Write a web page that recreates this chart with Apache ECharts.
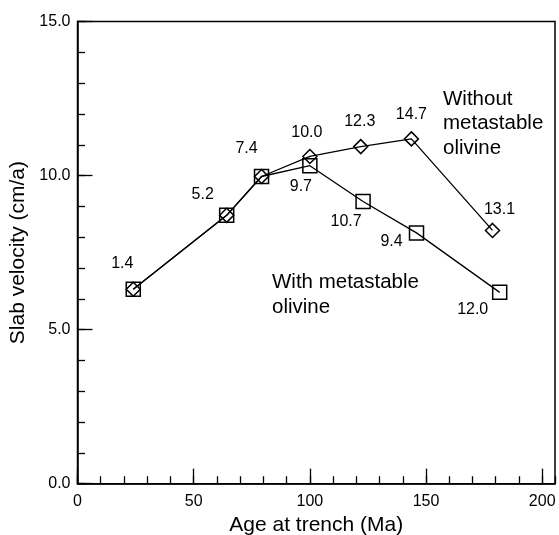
<!DOCTYPE html>
<html>
<head>
<meta charset="utf-8">
<script src="https://cdn.jsdelivr.net/npm/echarts@6/dist/echarts.min.js"></script>
<style>
  html, body { margin: 0; padding: 0; background: #fff; }
  #chart { width: 559px; height: 535px; }
</style>
</head>
<body>
<div id="chart"></div>
<script>
// Slab velocity versus age at trench, with and without metastable olivine
const sharedAge = [24.0, 64.2, 79.2];
const sharedVel = [6.31, 8.71, 9.97];
const sharedLabels = ['1.4', '5.2', '7.4'];

const withoutAge = [100.0, 121.9, 143.7, 178.6];
const withoutVel = [10.62, 10.94, 11.19, 8.22];
const withoutLabels = ['10.0', '12.3', '14.7', '13.1'];

const withAge = [100.0, 122.9, 145.9, 181.7];
const withVel = [10.32, 9.16, 8.14, 6.21];
const withLabels = ['9.7', '10.7', '9.4', '12.0'];

const xMajorTicks = [0, 50, 100, 150, 200];
const yMajorTicks = [0, 5, 10, 15];

const FONT = '"Liberation Sans", Arial, Helvetica, sans-serif';

// label offsets (px) relative to each marker centre
const sharedOffsets = [[-11, -26], [-24, -21], [-15, -28]];
const withoutOffsets = [[-3, -24], [-1, -25], [0, -24], [7, -21]];
const withOffsets = [[-9, 21], [-17, 20], [-25, 9], [-27, 17]];

function makeData(ages, vels, labels, offsets) {
  return ages.map((a, i) => {
    const d = { value: [a, vels[i]] };
    if (labels) {
      d.label = {
        show: true,
        position: 'inside',
        offset: offsets[i],
        formatter: labels[i],
        color: '#000',
        fontSize: 16,
        fontFamily: FONT
      };
    }
    return d;
  });
}

const chart = echarts.init(document.getElementById('chart'), null, { renderer: 'canvas' });

const axisLine = { show: true, onZero: false, lineStyle: { color: '#000', width: 1.5 } };

const option = {
  backgroundColor: '#fff',
  animation: false,
  grid: {
    left: 77.5, right: 4, top: 21.5, bottom: 51.3,
    outerBoundsMode: 'none',
    containLabel: false,
    show: true, borderColor: '#000', borderWidth: 1.5, backgroundColor: 'transparent'
  },
  xAxis: [
    {
      type: 'value', min: 0, max: 205.5, interval: 10, position: 'bottom',
      axisLine: axisLine,
      axisTick: { show: true, inside: true, length: 7.5, lineStyle: { color: '#000', width: 1.3 } },
      axisLabel: { show: false },
      splitLine: { show: false }
    },
    {
      type: 'value', min: 0, max: 205.5, interval: 50, position: 'bottom',
      axisLine: { show: false },
      axisTick: { show: true, inside: true, length: 15, lineStyle: { color: '#000', width: 1.3 } },
      axisLabel: {
        show: true, margin: 10, color: '#000', fontSize: 16, fontFamily: FONT,
        showMaxLabel: false,
        formatter: v => xMajorTicks.includes(v) ? String(v) : ''
      },
      splitLine: { show: false },
      name: 'Age at trench (Ma)', nameLocation: 'middle', nameGap: 28,
      nameTextStyle: { color: '#000', fontSize: 21, fontFamily: FONT }
    }
  ],
  yAxis: [
    {
      type: 'value', min: 0, max: 15, interval: 1, position: 'left',
      axisLine: axisLine,
      axisTick: { show: true, inside: true, length: 7.5, lineStyle: { color: '#000', width: 1.3 } },
      axisLabel: { show: false },
      splitLine: { show: false }
    },
    {
      type: 'value', min: 0, max: 15, interval: 5, position: 'left',
      axisLine: { show: false },
      axisTick: { show: true, inside: true, length: 15, lineStyle: { color: '#000', width: 1.3 } },
      axisLabel: {
        show: true, margin: 7, color: '#000', fontSize: 16, fontFamily: FONT,
        formatter: v => yMajorTicks.includes(v) ? v.toFixed(1) : ''
      },
      splitLine: { show: false },
      name: 'Slab velocity (cm/a)', nameLocation: 'middle', nameGap: 48,
      nameTextStyle: { color: '#000', fontSize: 21, fontFamily: FONT }
    }
  ],
  series: [
    {
      name: 'With metastable olivine',
      type: 'line',
      xAxisIndex: 0, yAxisIndex: 0,
      symbol: 'rect', symbolSize: 14,
      lineStyle: { color: '#000', width: 1.3 },
      itemStyle: { color: 'rgba(0,0,0,0)', borderColor: '#000', borderWidth: 1.5 },
      data: makeData(sharedAge, sharedVel, null, null)
        .concat(makeData(withAge, withVel, withLabels, withOffsets)),
      z: 2
    },
    {
      name: 'Without metastable olivine',
      type: 'line',
      xAxisIndex: 0, yAxisIndex: 0,
      symbol: 'diamond', symbolSize: [14, 14],
      lineStyle: { color: '#000', width: 1.3 },
      itemStyle: { color: 'rgba(0,0,0,0)', borderColor: '#000', borderWidth: 1.5 },
      data: makeData(sharedAge, sharedVel, sharedLabels, sharedOffsets)
        .concat(makeData(withoutAge, withoutVel, withoutLabels, withoutOffsets)),
      z: 3
    }
  ],
  graphic: [
    {
      type: 'text', left: 443, top: 87,
      style: {
        text: 'Without\nmetastable\nolivine',
        font: '20.5px ' + FONT, lineHeight: 24.5, fill: '#000'
      }
    },
    {
      type: 'text', left: 272, top: 270.5,
      style: {
        text: 'With metastable\nolivine',
        font: '20.5px ' + FONT, lineHeight: 24.5, fill: '#000'
      }
    }
  ]
};

chart.setOption(option);
</script>
</body>
</html>
